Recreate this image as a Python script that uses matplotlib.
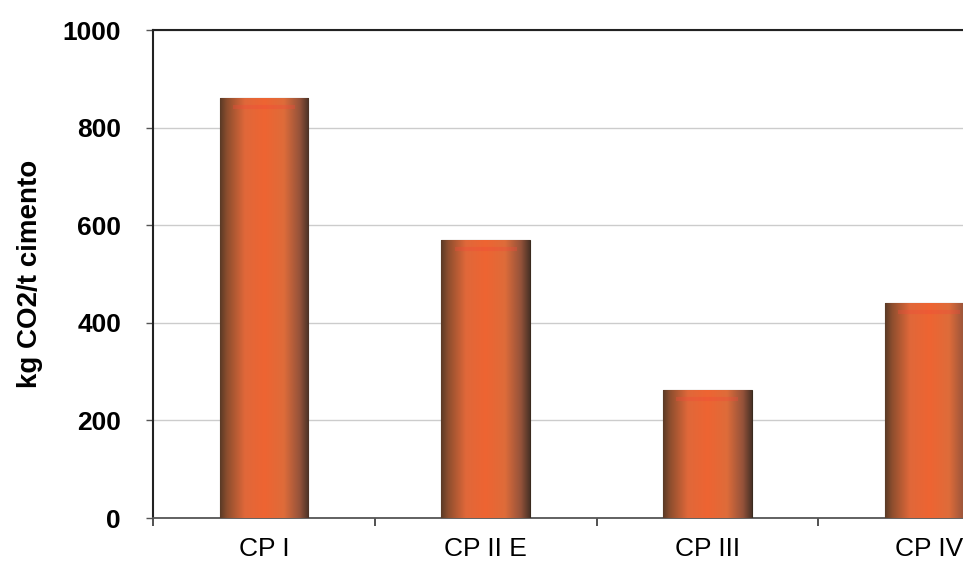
import matplotlib
matplotlib.use("Agg")
import matplotlib.pyplot as plt
import numpy as np
from matplotlib.colors import LinearSegmentedColormap

categories = ["CP I", "CP II E", "CP III", "CP IV"]
co2_values = [860, 570, 262, 440]
y_ticks = [0, 200, 400, 600, 800, 1000]

W, H = 963, 571
fig = plt.figure(figsize=(W / 100, H / 100), dpi=100)
fig.patch.set_facecolor("white")

# plot area runs past the right edge of the picture, as in the scan
x0, x1 = 153, 1040
y_top, y_bot = 30, 518
ax = fig.add_axes([x0 / W, 1 - y_bot / H, (x1 - x0) / W, (y_bot - y_top) / H])

xs = np.arange(len(categories))
bars = ax.bar(xs, co2_values, width=0.4, color="#d8642e", edgecolor="#3a2a1e",
              linewidth=0.8, zorder=3)

shade = LinearSegmentedColormap.from_list("cyl", [
    (0.00, "#5a3a26"),
    (0.08, "#8e4e2e"),
    (0.28, "#e0683a"),
    (0.50, "#ee6432"),
    (0.72, "#de6c3a"),
    (0.90, "#94523a"),
    (1.00, "#4a3226"),
])
grad = np.linspace(0, 1, 256).reshape(1, -1)
for b in bars:
    xl, w, h = b.get_x(), b.get_width(), b.get_height()
    im = ax.imshow(grad, cmap=shade, aspect="auto", extent=[xl, xl + w, 0, h],
                   zorder=4, interpolation="bilinear")
    im.set_clip_path(b)
    ax.plot([xl + w * 0.15, xl + w * 0.85], [h - 18, h - 18], color="#f04a3a",
            lw=3, alpha=0.35, zorder=5, solid_capstyle="butt")

ax.set_xlim(-0.5, len(categories) - 0.5)
ax.set_ylim(0, 1000)
ax.set_yticks(y_ticks)
ax.set_yticklabels([str(v) for v in y_ticks], fontsize=19, fontweight="bold",
                   family="Liberation Sans")
ax.yaxis.grid(True, color="#cccccc", linewidth=1.0, zorder=0)
ax.set_axisbelow(True)

ax.set_xticks(xs)
ax.set_xticklabels(categories, fontsize=19, family="Liberation Sans")
ax.set_xticks(np.arange(-0.5, len(categories) + 0.5, 1), minor=True)
ax.tick_params(axis="x", which="major", length=0, pad=14)
ax.tick_params(axis="x", which="minor", length=6, width=1.2, direction="out",
               color="#333333")
ax.tick_params(axis="y", length=5, width=1.0, direction="out", color="#555555",
               pad=18)

ax.spines["right"].set_visible(False)
for s in ["left", "top"]:
    ax.spines[s].set_color("#222222")
    ax.spines[s].set_linewidth(1.5)
ax.spines["bottom"].set_color("#555555")
ax.spines["bottom"].set_linewidth(1.3)

ax.set_ylabel("kg CO2/t cimento", fontsize=20, fontweight="bold",
              family="Liberation Sans", labelpad=14)

fig.savefig("out.png", dpi=100, facecolor="white")
